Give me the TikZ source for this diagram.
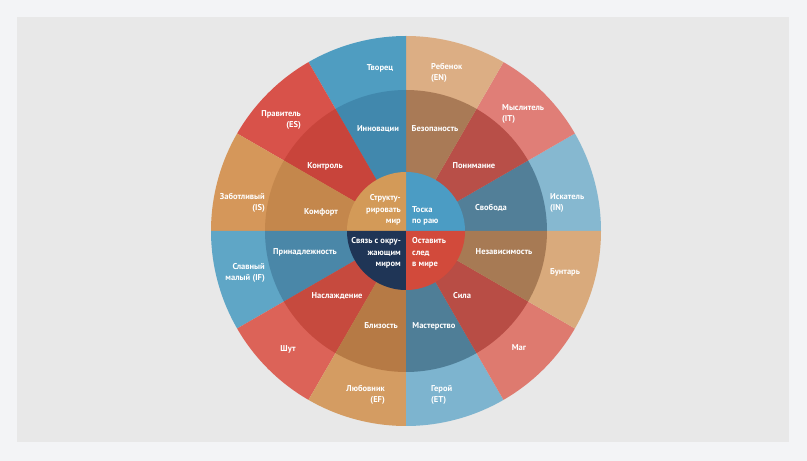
\documentclass[tikz,border=0pt]{standalone}
\usepackage{fontspec}
\setmainfont{PT Sans}
\definecolor{bgout}{HTML}{F3F4F6}
\definecolor{panel}{HTML}{E8E8E8}
% outer ring
\definecolor{oA}{HTML}{86B8D0}
\definecolor{oB}{HTML}{E07E77}
\definecolor{oC}{HTML}{DCAE84}
\definecolor{oD}{HTML}{4F9DC1}
\definecolor{oE}{HTML}{D8524A}
\definecolor{oF}{HTML}{D5975A}
\definecolor{oG}{HTML}{5FA6C6}
\definecolor{oH}{HTML}{DC6358}
\definecolor{oI}{HTML}{D49C62}
\definecolor{oJ}{HTML}{7DB4CF}
\definecolor{oK}{HTML}{DE7A6F}
\definecolor{oL}{HTML}{D9AA7C}
% middle ring
\definecolor{mA}{HTML}{527F98}
\definecolor{mB}{HTML}{B84F48}
\definecolor{mC}{HTML}{A97A56}
\definecolor{mD}{HTML}{4188AD}
\definecolor{mE}{HTML}{C8443B}
\definecolor{mF}{HTML}{C4874C}
\definecolor{mG}{HTML}{4A87A8}
\definecolor{mH}{HTML}{C64A3E}
\definecolor{mI}{HTML}{B67A45}
\definecolor{mJ}{HTML}{4F7E97}
\definecolor{mK}{HTML}{B84D45}
\definecolor{mL}{HTML}{A77A54}
% inner
\definecolor{iA}{HTML}{4B9CC4}
\definecolor{iB}{HTML}{D39A58}
\definecolor{iC}{HTML}{1F3556}
\definecolor{iD}{HTML}{D24A3B}
\tikzset{
  lbl/.style={text=white, inner sep=0pt, font=\fontsize{8.5}{11.5}\selectfont\bfseries},
  lblL/.style={lbl, align=left, anchor=west},
  lblR/.style={lbl, align=right, anchor=east},
}
\begin{document}
\begin{tikzpicture}[x=1pt,y=1pt]
\fill[bgout] (0,0) rectangle (807,461);
\useasboundingbox (0,0) rectangle (807,461);
\fill[panel] (17,19) rectangle (789,444);
\coordinate (C) at (406,230);
% outer ring
\foreach \a/\c in {0/oA,30/oB,60/oC,90/oD,120/oE,150/oF,180/oG,210/oH,240/oI,270/oJ,300/oK,330/oL}{
  \fill[\c] (C) -- ++(\a:195) arc[start angle=\a, delta angle=30, radius=195] -- cycle;
}
% middle ring
\foreach \a/\c in {0/mA,30/mB,60/mC,90/mD,120/mE,150/mF,180/mG,210/mH,240/mI,270/mJ,300/mK,330/mL}{
  \fill[\c] (C) -- ++(\a:141) arc[start angle=\a, delta angle=30, radius=141] -- cycle;
}
% inner circle
\foreach \a/\c in {0/iA,90/iB,180/iC,270/iD}{
  \fill[\c] (C) -- ++(\a:59) arc[start angle=\a, delta angle=90, radius=59] -- cycle;
}
% outer labels
\node[lbl] (tvorec) at (380,393) {Творец};
\node[lblL] (rebenok) at (431,388) {Ребенок\\(EN)};
\node[lblL] (myslitel) at (502,347) {Мыслитель\\(IT)};
\node[lblL] (iskatel) at (550,258) {Искатель\\(IN)};
\node[lbl] (buntar) at (565,189) {Бунтарь};
\node[lbl] (mag) at (519,113) {Маг};
\node[lblL] (geroy) at (431,66) {Герой\\(ET)};
\node[lblR] (lyubovnik) at (385,66) {Любовник\\(EF)};
\node[lbl] (shut) at (288,112) {Шут};
\node[lblR] (slavny) at (265,188) {Славный\\малый (IF)};
\node[lblR] (zabotl) at (265,258) {Заботливый\\(IS)};
\node[lblR] (pravit) at (301,341) {Правитель\\(ES)};
% middle labels
\node[lbl] (innov) at (378,332) {Инновации};
\node[lbl] (kontrol) at (325,295) {Контроль};
\node[lbl] (komfort) at (321,249) {Комфорт};
\node[lbl] (bezop) at (435,332) {Безопаность};
\node[lbl] (ponim) at (474,295) {Понимание};
\node[lbl] (svoboda) at (491,253) {Свобода};
\node[lbl] (prinadl) at (305,209) {Принадлежность};
\node[lbl] (naslazh) at (337,165) {Наслаждение};
\node[lbl] (blizost) at (381,135) {Близость};
\node[lbl] (nezav) at (504,209) {Независимость};
\node[lbl] (sila) at (462,165) {Сила};
\node[lbl] (master) at (434,135) {Мастерство};
% inner labels
\node[lblR] (strukt) at (401,251) {Структу-\\рировать\\мир};
\node[lblL] (toska) at (412,245) {Тоска\\по раю};
\node[lblR] (svyaz) at (401,208) {Связь с окру-\\жающим\\миром};
\node[lblL] (ostav) at (412,208) {Оставить\\след\\в мире};
\end{tikzpicture}
\end{document}
